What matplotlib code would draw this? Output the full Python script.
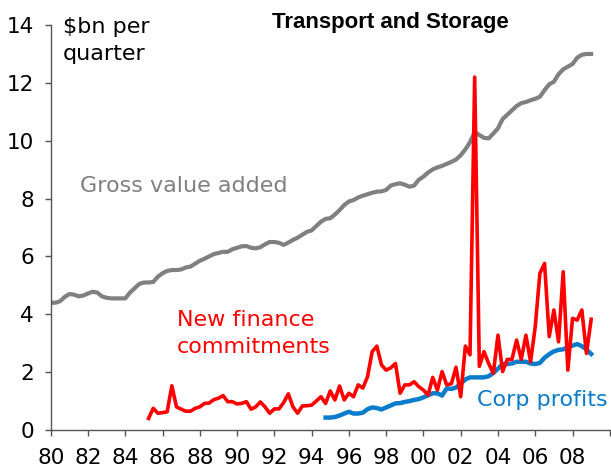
import matplotlib
matplotlib.use("Agg")
import matplotlib.pyplot as plt
import numpy as np


# quarterly series, $bn per quarter
GVA_START = 1980.0
GVA = [
    4.40, 4.40, 4.45, 4.60,
    4.70, 4.68, 4.62, 4.65,
    4.72, 4.78, 4.75, 4.62,
    4.57, 4.55, 4.55, 4.55,
    4.55, 4.75, 4.90, 5.05,
    5.10, 5.10, 5.12, 5.30,
    5.42, 5.50, 5.53, 5.53,
    5.55, 5.62, 5.65, 5.75,
    5.85, 5.92, 6.00, 6.08,
    6.12, 6.16, 6.16, 6.25,
    6.30, 6.35, 6.36, 6.30,
    6.28, 6.32, 6.42, 6.50,
    6.50, 6.47, 6.40, 6.48,
    6.57, 6.65, 6.75, 6.85,
    6.90, 7.05, 7.20, 7.30,
    7.32, 7.45, 7.60, 7.78,
    7.90, 7.95, 8.04, 8.10,
    8.15, 8.20, 8.24, 8.25,
    8.30, 8.45, 8.50, 8.53,
    8.48, 8.41, 8.45, 8.65,
    8.76, 8.90, 9.01, 9.08,
    9.13, 9.20, 9.27, 9.35,
    9.50, 9.70, 9.95, 10.30,
    10.20, 10.10, 10.08, 10.25,
    10.43, 10.75, 10.90, 11.05,
    11.20, 11.30, 11.34, 11.40,
    11.45, 11.52, 11.75, 11.95,
    12.04, 12.30, 12.47, 12.56,
    12.65, 12.87, 12.97, 13.00,
    13.00,
]

FINANCE_START = 1985.25
FINANCE = [
    0.40, 0.75, 0.58,
    0.60, 0.63, 1.53, 0.80,
    0.72, 0.65, 0.65, 0.75,
    0.80, 0.92, 0.93, 1.05,
    1.10, 1.19, 0.98, 0.98,
    0.90, 0.92, 0.98, 0.72,
    0.80, 0.97, 0.80, 0.58,
    0.73, 0.73, 0.95, 1.25,
    0.80, 0.58, 0.83, 0.84,
    0.86, 1.00, 1.15, 0.92,
    1.35, 1.04, 1.52, 1.04,
    1.27, 1.15, 1.56, 1.45,
    1.84, 2.71, 2.90, 2.25,
    2.07, 2.15, 2.30, 1.27,
    1.56, 1.56, 1.67, 1.50,
    1.38, 1.21, 1.82, 1.38,
    2.02, 1.56, 1.60, 2.17,
    1.15, 2.90, 2.60, 12.20,
    2.20, 2.71, 2.30, 1.96,
    3.28, 2.02, 2.44, 2.44,
    3.11, 2.44, 3.28, 2.36,
    3.57, 5.42, 5.76, 3.23,
    4.15, 3.05, 5.47, 2.07,
    3.86, 3.80, 4.15, 2.65,
    3.83,
]

PROFITS_START = 1994.75
PROFITS = [
    0.43,
    0.43, 0.45, 0.50, 0.57,
    0.63, 0.57, 0.57, 0.60,
    0.72, 0.78, 0.76, 0.71,
    0.78, 0.85, 0.92, 0.93,
    0.97, 1.00, 1.04, 1.07,
    1.13, 1.20, 1.27, 1.27,
    1.19, 1.44, 1.42, 1.47,
    1.60, 1.75, 1.82, 1.82,
    1.82, 1.82, 1.86, 1.97,
    2.12, 2.28, 2.28, 2.30,
    2.36, 2.36, 2.36, 2.30,
    2.28, 2.32, 2.50, 2.62,
    2.72, 2.77, 2.79, 2.86,
    2.92, 2.97, 2.90, 2.78,
    2.63,
]

YEAR_TICKS = list(range(1980, 2011, 2))
YEAR_LABELS = [f"{y % 100:02d}" for y in range(1980, 2009, 2)] + [""]
Y_TICKS = [0, 2, 4, 6, 8, 10, 12, 14]

GREY = "#808080"
RED = "#ff0000"
BLUE = "#0a7ccc"


def quarters(start, values):
    return start + np.arange(len(values)) / 4.0


def main():
    plt.rcParams["font.family"] = ["DejaVu Sans"]
    fig = plt.figure(figsize=(6.11, 4.75), dpi=100)
    ax = fig.add_axes([0.083, 0.0947, 0.915, 0.8526])

    ax.plot(quarters(GVA_START, GVA), GVA, color=GREY, lw=3.0,
            solid_joinstyle="round")
    ax.plot(quarters(PROFITS_START, PROFITS), PROFITS, color=BLUE, lw=3.2,
            solid_joinstyle="round")
    ax.plot(quarters(FINANCE_START, FINANCE), FINANCE, color=RED, lw=2.6,
            solid_joinstyle="round")

    ax.set_xlim(1980, 2010)
    ax.set_ylim(0, 14)
    ax.set_xticks(YEAR_TICKS)
    ax.set_xticklabels(YEAR_LABELS)
    ax.set_yticks(Y_TICKS)

    for side in ("top", "right"):
        ax.spines[side].set_visible(False)
    for side in ("left", "bottom"):
        ax.spines[side].set_color("#555555")
        ax.spines[side].set_linewidth(1.0)
    ax.tick_params(axis="both", direction="out", length=4, width=1.0,
                   color="#555555", labelsize=15.5, labelcolor="black")
    ax.tick_params(axis="y", pad=8)
    ax.tick_params(axis="x", pad=9)

    fs = 16
    fig.text(63 / 611, 1 - 33 / 475, "$bn per", fontsize=fs, ha="left",
             va="baseline")
    fig.text(63 / 611, 1 - 60 / 475, "quarter", fontsize=fs, ha="left",
             va="baseline")
    fig.text(390 / 611, 1 - 28 / 475, "Transport and Storage",
             fontsize=16, fontweight="bold", family="Liberation Sans",
             ha="center", va="baseline")
    fig.text(80 / 611, 1 - 192 / 475, "Gross value added", fontsize=fs,
             color=GREY, ha="left", va="baseline")
    fig.text(177 / 611, 1 - 326 / 475, "New finance", fontsize=fs,
             color=RED, ha="left", va="baseline")
    fig.text(177 / 611, 1 - 353 / 475, "commitments", fontsize=fs,
             color=RED, ha="left", va="baseline")
    fig.text(477 / 611, 1 - 406 / 475, "Corp profits", fontsize=fs,
             color=BLUE, ha="left", va="baseline")

    fig.savefig("out.png", dpi=100)
    plt.close(fig)


if __name__ == "__main__":
    main()
